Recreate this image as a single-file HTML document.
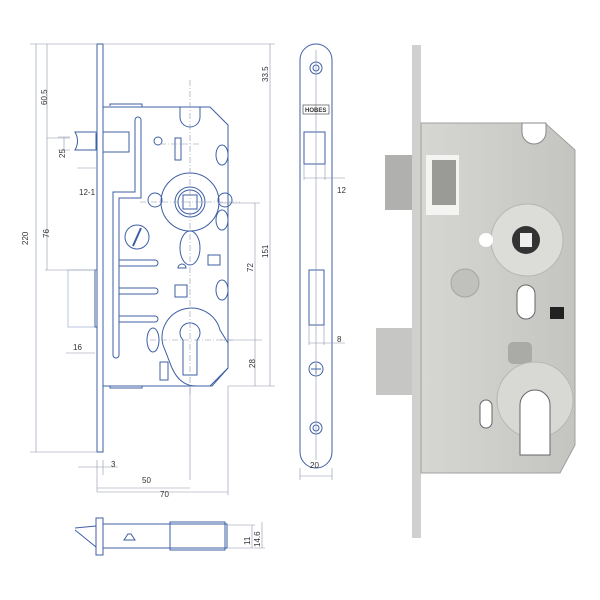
<!DOCTYPE html>
<html><head><style>body{margin:0;background:#fff}svg{display:block}</style></head><body>
<svg width="600" height="600" viewBox="0 0 600 600" xmlns="http://www.w3.org/2000/svg" font-family="Liberation Sans, sans-serif">
<g fill="none" stroke="#3d5fa6" stroke-width="1">
<rect x="97" y="44" width="6" height="408"/>
<path d="M103 107 H210 L228 125 V368 L210 386 H103"/>
<path d="M110 106 V104 H142 V107 M110 386 V388 H142 V386"/>
<rect x="103" y="132" width="26" height="20"/>
<path d="M97 132 H75 Q80 141 75 150 H97 M96 133 V150"/>
<rect x="68" y="270" width="29" height="57" stroke="#b8c6e0"/>
<rect x="95" y="270" width="2" height="57"/>
<path d="M135 120 V192 H113 V355 a3 3 0 0 0 6 0 V198 H141 V120 a3 3 0 0 0 -6 0"/>
<path d="M119 260 H155 a3 3 0 0 1 0 6 H119 M119 288 H155 a3 3 0 0 1 0 6 H119 M119 316 H155 a3 3 0 0 1 0 6 H119"/>
<circle cx="190" cy="202" r="29"/>
<circle cx="190" cy="202" r="15"/>
<circle cx="190" cy="202" r="12"/>
<rect x="183" y="195" width="14" height="14"/>
<circle cx="155" cy="200" r="7"/>
<circle cx="225" cy="200" r="7"/>
<circle cx="137" cy="237" r="12"/>
<path d="M133 246 L141 228" stroke-width="2"/>
<ellipse cx="190" cy="248" rx="10" ry="17"/>
<rect x="208" y="255" width="12" height="10"/>
<path d="M178 268 a4 4 0 0 1 8 0 Z"/>
<rect x="175" y="285" width="12" height="12"/>
<path d="M180 107 V117 a10 10 0 0 0 20 0 V107"/>
<rect x="175" y="138" width="6" height="22"/>
<circle cx="158" cy="141" r="4"/>
<ellipse cx="222" cy="155" rx="6" ry="10"/>
<ellipse cx="222" cy="220" rx="6" ry="10"/>
<ellipse cx="222" cy="290" rx="6" ry="10"/>
<path d="M163 345 A29 29 0 1 1 220 330 L228 343 V368 L212 386 H196 Q180 386 172 368 Z"/>
<path d="M183 340 a10 10 0 1 1 14 0 V375 H183 Z"/>
<ellipse cx="153" cy="340" rx="6" ry="12"/>
<rect x="160" y="362" width="8" height="18"/>
<rect x="300" y="44" width="32" height="424" rx="16"/>
<circle cx="316" cy="68" r="6"/><circle cx="316" cy="68" r="3"/>
<circle cx="316" cy="428" r="6"/><circle cx="316" cy="428" r="3"/>
<circle cx="316" cy="369" r="7"/>
<path d="M311 369 H321 M316 364 V374"/>
<rect x="304" y="132" width="21" height="32"/>
<rect x="309" y="270" width="15" height="55"/>
<rect x="96" y="518" width="7" height="37"/>
<path d="M75 528 L96 526 M75 530 L96 547 M103 524 H227 V548 H103"/>
<rect x="170" y="522" width="55" height="28"/>
<path d="M124 540 l4 -6 h3 l4 6 z"/>
</g>
<g stroke="#8a96aa" stroke-width="0.6" fill="none">
<path d="M30 44 H97 M30 452 H97 M36 44 V452 M47 44 V270 M47 138 H70 M45 270 H97 M58 137 H70 M58 150 H70 M64 137 V150"/>
<path d="M103 44 H275 M270 44 V386 M255 203 V386 M220 203 H260 M220 340 H262 M228 386 H275"/>
<path d="M97 460 V492 M103 460 V475 M190 386 V480 M228 386 V495 M97 488 H190 M97 492 H228 M78 467 H118 M66 353 H95 M77 168 H97"/>
<path d="M190 80 V395 M140 202 H240 M150 340 H235 M160 144 H200" stroke-dasharray="6 2 1 2"/>
<path d="M316 50 V460 M300 476 H332 M300 468 V480 M332 468 V480 M304 178 H345 M309 343 H345 M304 164 V180 M325 164 V180 M309 325 V345 M324 325 V345"/>
<path d="M227 525 H255 M227 548 H265 M252 525 V548 M262 522 V548"/>
</g>
<g font-size="8" fill="#333">
<text x="28" y="245" transform="rotate(-90 28 245)">220</text>
<text x="47" y="105" transform="rotate(-90 47 105)">60.5</text>
<text x="65" y="158" transform="rotate(-90 65 158)">25</text>
<text x="49" y="238" transform="rotate(-90 49 238)">76</text>
<text x="79" y="195">12-1</text>
<text x="73" y="350">16</text>
<text x="111" y="467">3</text>
<text x="142" y="483">50</text>
<text x="160" y="497">70</text>
<text x="268" y="82" transform="rotate(-90 268 82)">33.5</text>
<text x="268" y="258" transform="rotate(-90 268 258)">151</text>
<text x="253" y="272" transform="rotate(-90 253 272)">72</text>
<text x="255" y="368" transform="rotate(-90 255 368)">28</text>
<text x="337" y="193">12</text>
<text x="337" y="342">8</text>
<text x="310" y="468">20</text>
<text x="250" y="545" transform="rotate(-90 250 545)">11</text>
<text x="260" y="547" transform="rotate(-90 260 547)">14.6</text>
<text x="305" y="112" font-size="6" font-weight="bold">HOBES</text>
</g>
<rect x="303" y="105" width="26" height="9" fill="none" stroke="#333" stroke-width="0.6"/>
<defs><linearGradient id="m" x1="0" x2="1"><stop offset="0" stop-color="#d6d6d3"/><stop offset="1" stop-color="#c4c4c1"/></linearGradient></defs>
<rect x="412" y="45" width="9" height="493" fill="#d0d0ce"/>
<path d="M421 123 H545 L575 150 V445 L560 473 H421 Z" fill="url(#m)" stroke="#a0a09e"/>
<rect x="385" y="155" width="27" height="55" fill="#b0b1af"/>
<rect x="376" y="328" width="36" height="67" fill="#c6c7c5"/>
<rect x="426" y="155" width="33" height="60" fill="#f4f4f2"/>
<rect x="432" y="160" width="24" height="45" fill="#9a9a97"/>
<circle cx="527" cy="240" r="36" fill="#dcdcd9" stroke="#b5b5b2"/>
<circle cx="526" cy="240" r="14" fill="#333"/>
<rect x="520" y="233" width="12" height="14" fill="#eee"/>
<circle cx="486" cy="240" r="7" fill="#fff"/>
<circle cx="465" cy="283" r="14" fill="#c0c0bd" stroke="#a5a5a2"/>
<rect x="517" y="285" width="18" height="34" rx="9" fill="#fff" stroke="#666"/>
<rect x="550" y="307" width="14" height="12" fill="#222"/>
<rect x="508" y="342" width="24" height="22" rx="5" fill="#aaaaa7"/>
<circle cx="535" cy="400" r="38" fill="#d8d8d5" stroke="#b5b5b2"/>
<path d="M520 405 a15 15 0 1 1 30 0 L550 455 H520 Z" fill="#fff" stroke="#666"/>
<rect x="480" y="400" width="12" height="28" rx="6" fill="#fff" stroke="#666"/>
<path d="M522 123 V132 a12 12 0 0 0 24 0 V123 Z" fill="#fff" stroke="#888"/>
</svg>
</body></html>
